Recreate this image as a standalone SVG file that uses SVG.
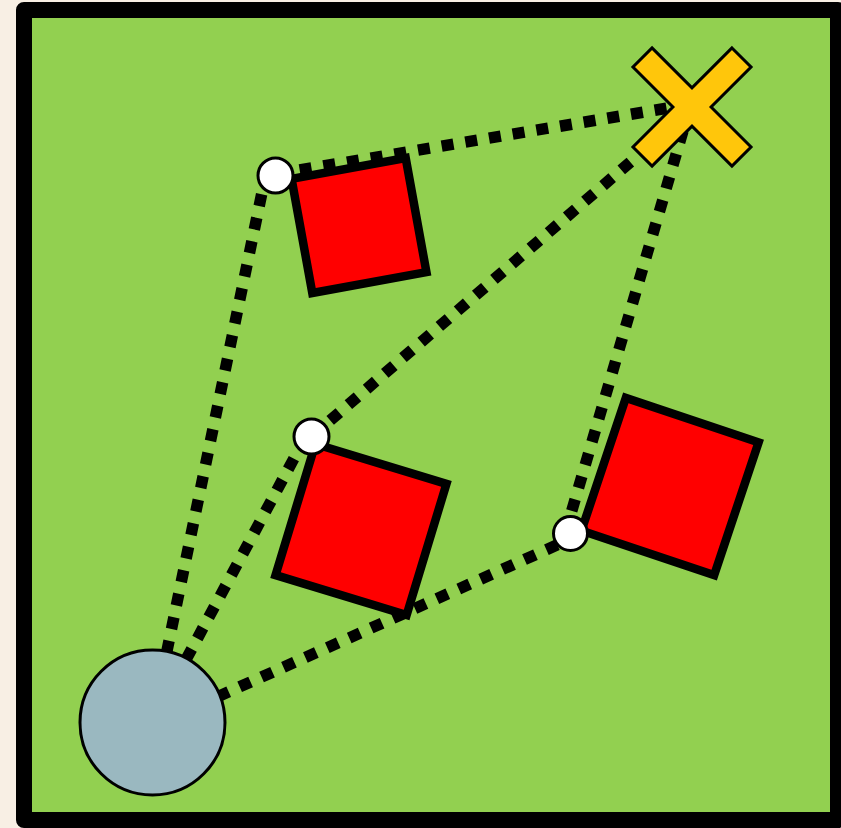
<svg xmlns="http://www.w3.org/2000/svg" width="841" height="828" viewBox="0 0 841 828">
  <style>
    .path { fill: none; stroke: #000; stroke-width: 11.5; stroke-dasharray: 12 12; }
    .box { fill: #ff0000; stroke: #000; stroke-width: 8.5; stroke-linejoin: miter; }
    .wp { fill: #fff; stroke: #000; stroke-width: 3; }
  </style>
  <rect x="0" y="0" width="841" height="828" fill="#f8efe4"/>
  <rect id="field" x="24" y="10" width="814" height="810" fill="#92d050" stroke="#000" stroke-width="16" stroke-linejoin="round"/>
  <g id="connectors">
    <line class="path" x1="152" y1="723" x2="265" y2="178"/>
    <line class="path" x1="152" y1="723" x2="306" y2="436"/>
    <line class="path" x1="152" y1="726" x2="566" y2="541"/>
    <line class="path" x1="276" y1="174" x2="692" y2="104"/>
    <line class="path" x1="312" y1="436" x2="692" y2="109"/>
    <line class="path" x1="565" y1="534" x2="690" y2="107"/>
  </g>
  <g id="obstacle1"><rect class="box" x="-58" y="-58" width="116" height="116" transform="translate(359,225.5) rotate(-10.3)"/></g>
  <g id="obstacle2"><rect class="box" x="-68.5" y="-68.5" width="137" height="137" transform="translate(361,529.5) rotate(16.9)"/></g>
  <g id="obstacle3"><rect class="box" x="-70" y="-70" width="140" height="140" transform="translate(670,486.5) rotate(18.5)"/></g>
  <g id="start"><circle cx="152.5" cy="722.5" r="72.5" fill="#9ab8c0" stroke="#000" stroke-width="3"/></g>
  <g id="waypoint1"><circle class="wp" cx="275.5" cy="175.5" r="17.5"/></g>
  <g id="waypoint2"><circle class="wp" cx="311.5" cy="436.5" r="17.5"/></g>
  <g id="waypoint3"><circle class="wp" cx="570.5" cy="533.5" r="17"/></g>
  <g id="goal">
    <polygon points="-13.5,-70 13.5,-70 13.5,-13.5 70,-13.5 70,13.5 13.5,13.5 13.5,70 -13.5,70 -13.5,13.5 -70,13.5 -70,-13.5 -13.5,-13.5" transform="translate(692,107) rotate(45)" fill="#ffc60b" stroke="#000" stroke-width="3" stroke-linejoin="miter"/>
  </g>
</svg>
